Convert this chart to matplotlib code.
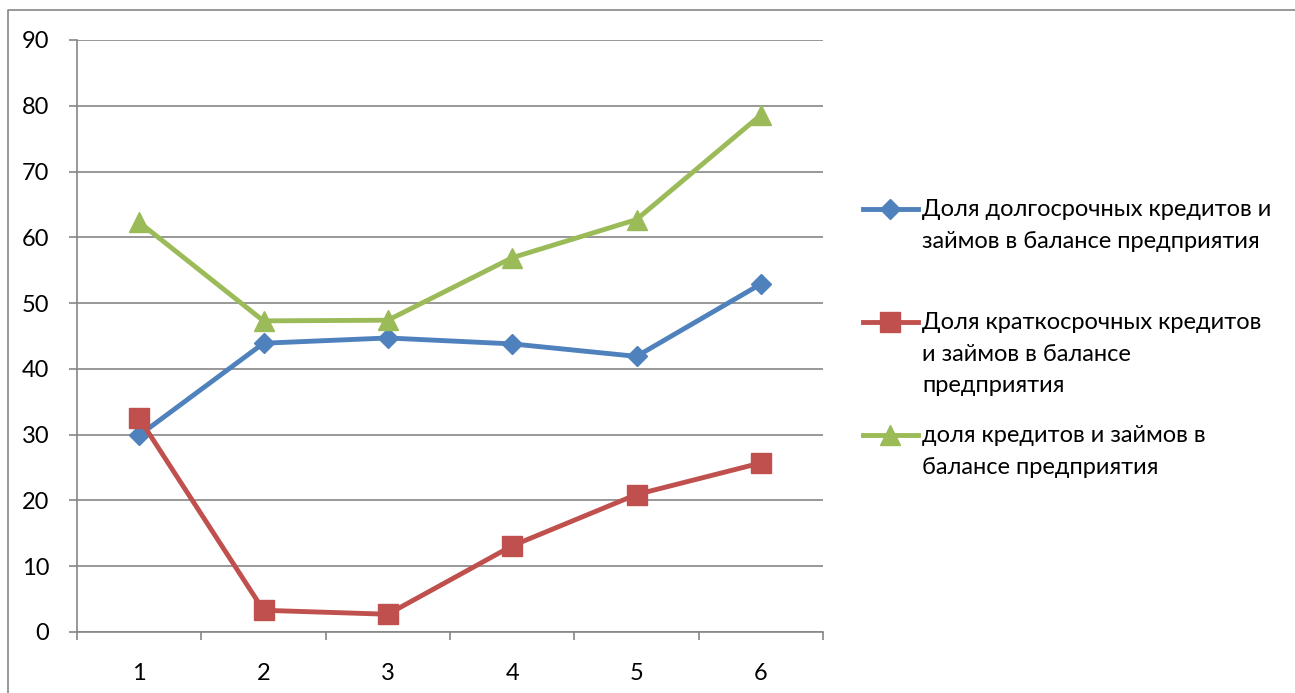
import matplotlib.pyplot as plt
from matplotlib.lines import Line2D
import numpy as np

plt.rcParams['font.family'] = ['Lato', 'DejaVu Sans']

periods = [1, 2, 3, 4, 5, 6]
long_term = [29.9, 43.9, 44.7, 43.8, 41.9, 52.9]
short_term = [32.5, 3.3, 2.7, 13.1, 20.9, 25.7]
total = [62.3, 47.3, 47.4, 56.9, 62.7, 78.6]

labels = ["Доля долгосрочных кредитов и\nзаймов в балансе предприятия",
          "Доля краткосрочных кредитов\nи займов в балансе\nпредприятия",
          "доля кредитов и займов в\nбалансе предприятия"]
colors = ["#4F81BD", "#C0504D", "#9BBB59"]
markers = ["D", "s", "^"]
msizes = [10, 14, 15]
grid_c = "#868686"
fs = 17

fig = plt.figure(figsize=(12.95, 6.93), dpi=100)
ax = fig.add_axes([77/1295, 61/693, 746/1295, 592/693])

x = np.arange(len(periods))
for vals, c, m, ms in zip([long_term, short_term, total], colors, markers, msizes):
    ax.plot(x, vals, color=c, lw=3.5, marker=m, ms=ms, mec=c, mfc=c, zorder=3)

ax.set_xlim(-0.5, len(periods) - 0.5)
ax.set_ylim(0, 90)
ax.set_yticks(range(0, 91, 10))
ax.set_xticks(x)
ax.set_xticklabels([str(p) for p in periods])
ax.set_xticks(np.arange(-0.5, len(periods)), minor=True)
ax.yaxis.grid(True, color=grid_c, lw=1.2)
ax.set_axisbelow(True)
for s in ['top', 'right']:
    ax.spines[s].set_visible(False)
for s in ['left', 'bottom']:
    ax.spines[s].set_color(grid_c)
    ax.spines[s].set_linewidth(1.2)
ax.tick_params(axis='y', length=6, color=grid_c, width=1.2, pad=14, labelsize=fs)
ax.tick_params(axis='x', which='major', length=0, pad=22, labelsize=fs)
ax.tick_params(axis='x', which='minor', length=6, color=grid_c, width=1.2)

# legend drawn in figure pixels
W, H = 1295, 693
for i, (lab, c, m, ms) in enumerate(zip(labels, colors, markers, msizes)):
    yc = [209, 322, 435][i]
    fig.add_artist(Line2D([863/W, 918/W], [1 - yc/H, 1 - yc/H], color=c, lw=3.5,
                          transform=fig.transFigure))
    fig.add_artist(Line2D([890/W], [1 - yc/H], color=c, marker=m, ms=ms,
                          transform=fig.transFigure))
    fig.text(922/W, 1 - (yc - 10)/H, lab, va='top', ha='left', fontsize=fs,
             linespacing=1.62)

# chart area border (top and left edges)
fig.add_artist(Line2D([8/W, 8/W, 1], [0, 1 - 10/H, 1 - 10/H], color=grid_c, lw=1.2,
                      transform=fig.transFigure))

fig.savefig("out.png", dpi=100)
